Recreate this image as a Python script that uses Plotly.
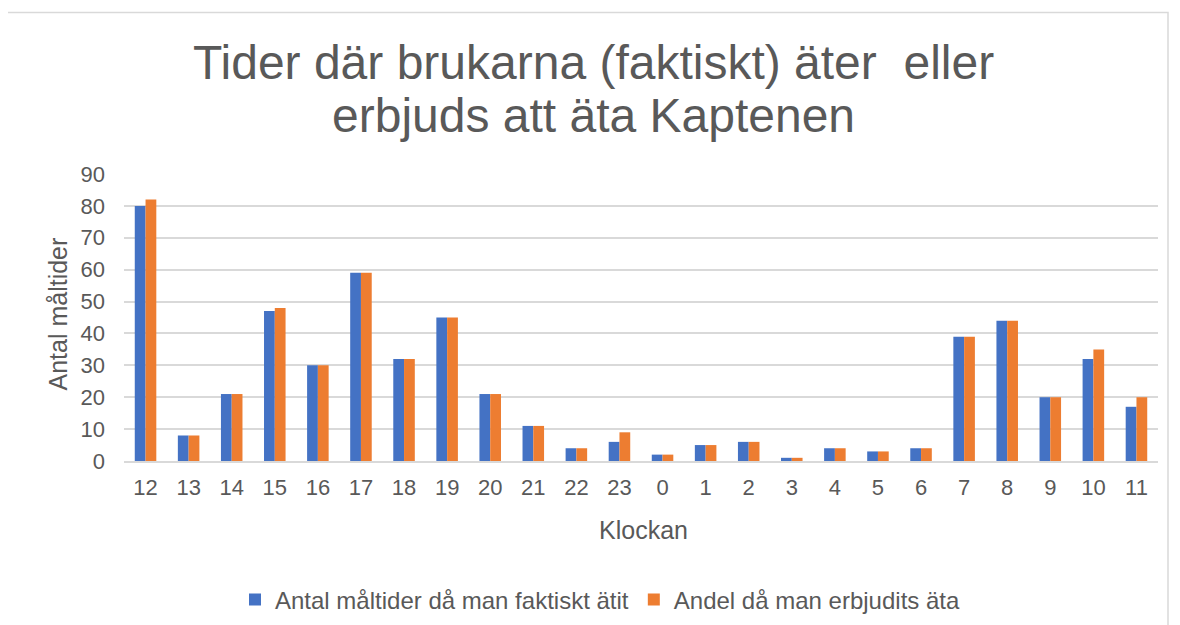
import plotly.graph_objects as go

hours = ["12", "13", "14", "15", "16", "17", "18", "19", "20", "21", "22", "23",
         "0", "1", "2", "3", "4", "5", "6", "7", "8", "9", "10", "11"]
faktiskt = [80, 8, 21, 47, 30, 59, 32, 45, 21, 11, 4, 6,
            2, 5, 6, 1, 4, 3, 4, 39, 44, 20, 32, 17]
erbjudits = [82, 8, 21, 48, 30, 59, 32, 45, 21, 11, 4, 9,
             2, 5, 6, 1, 4, 3, 4, 39, 44, 20, 35, 20]
y_ticks = [0, 10, 20, 30, 40, 50, 60, 70, 80, 90]
title_lines = ["Tider där brukarna (faktiskt) äter  eller", "erbjuds att äta Kaptenen"]

FONT = "Liberation Sans, Arial, sans-serif"
GREY = "#595959"
OFF = 8  # page body margin

W, H = 1180, 625
L, R, T, B = 124 - OFF, W - (1158 - OFF), 174 - OFF, H - (462 - OFF)
pw, ph = W - L - R, H - T - B


def px(X):
    return (X - OFF - L) / pw


def py(Y):
    return (H - B - (Y - OFF)) / ph


fig = go.Figure()
fig.add_trace(go.Bar(x=hours, y=faktiskt, name="Antal måltider då man faktiskt ätit",
                     marker_color="#4472C4", marker_line_width=0))
fig.add_trace(go.Bar(x=hours, y=erbjudits, name="Andel då man erbjudits äta",
                     marker_color="#ED7D31", marker_line_width=0))

fig.update_layout(
    width=W, height=H,
    margin=dict(l=L, r=R, t=T, b=B),
    paper_bgcolor="white", plot_bgcolor="white",
    barmode="group", bargap=0.5, bargroupgap=0,
    font=dict(family=FONT, color=GREY, size=22),
    xaxis=dict(type="category", tickfont=dict(size=22, color=GREY), showgrid=False,
               showline=True, linecolor="#d9d9d9", linewidth=2, ticks="", ticklen=0,
               ticklabelstandoff=6),
    yaxis=dict(range=[0, 90], tickvals=y_ticks,
               tickfont=dict(size=22, color=GREY), showgrid=True, gridcolor="#d9d9d9",
               gridwidth=1.5, zeroline=False, showline=False, ticks="", ticklen=0,
               ticklabelstandoff=18),
    legend=dict(orientation="h", x=px(600), xanchor="center", y=py(600), yanchor="middle",
                font=dict(size=24, color=GREY), itemwidth=30, traceorder="normal"),
    showlegend=True,
)

for txt, yy in zip(title_lines, [62, 115]):
    fig.add_annotation(text=txt, xref="paper", yref="paper", x=px(593), y=py(yy),
                       xanchor="center", yanchor="middle", showarrow=False,
                       font=dict(size=48, color=GREY, family=FONT))

fig.add_annotation(text="Klockan", xref="paper", yref="paper", x=px(643), y=py(531),
                   xanchor="center", yanchor="middle", showarrow=False,
                   font=dict(size=25, color=GREY, family=FONT))
fig.add_annotation(text="Antal måltider", xref="paper", yref="paper", x=px(58), y=py(315),
                   xanchor="center", yanchor="middle", showarrow=False, textangle=-90,
                   font=dict(size=25, color=GREY, family=FONT))

fig.add_shape(type="rect", xref="paper", yref="paper",
              x0=px(3), x1=px(1168), y0=py(660), y1=py(12),
              line=dict(color="#d9d9d9", width=1.5), fillcolor="rgba(0,0,0,0)", layer="below")

fig.write_html("out.html")
